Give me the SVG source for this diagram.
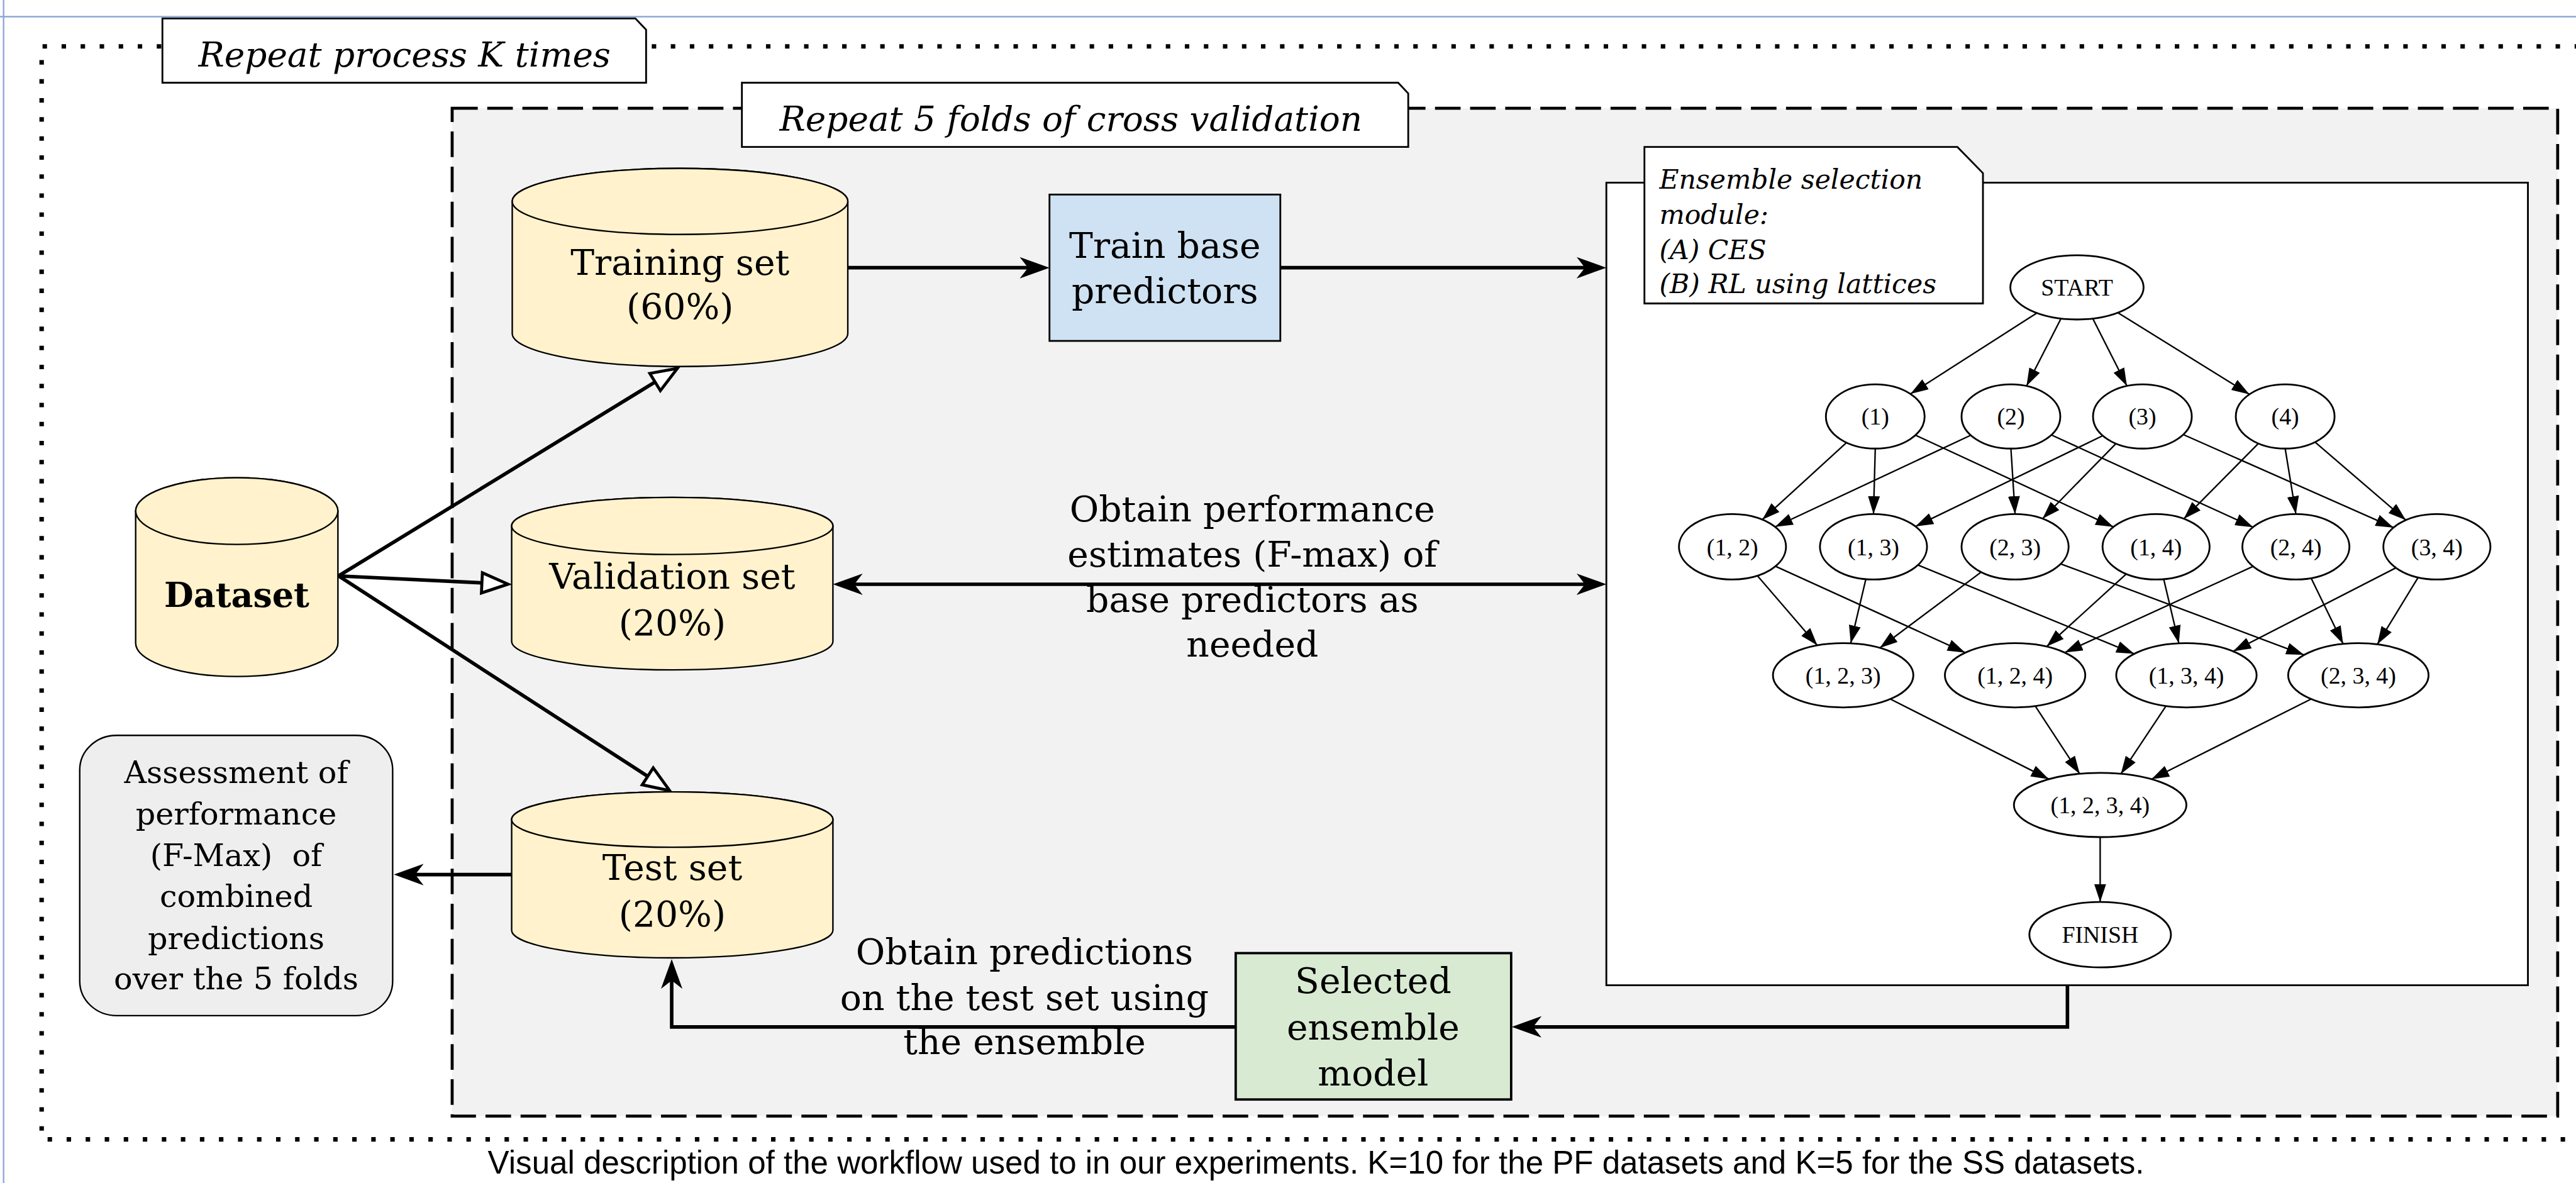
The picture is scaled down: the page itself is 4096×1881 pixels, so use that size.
<svg xmlns="http://www.w3.org/2000/svg" width="4096" height="1881" viewBox="0 0 4096 1881">
<defs>
<style>
.serif{font-family:"DejaVu Serif","Liberation Serif",serif;fill:#000}
.main{font-size:60px;text-anchor:middle}
.ital{font-style:italic}
.gv{font-family:"Liberation Serif","Times New Roman",serif;font-size:40px;text-anchor:middle;fill:#000}
.cyl{fill:#fff2cc;stroke:#000;stroke-width:2.5}
.flow{fill:none;stroke:#000;stroke-width:6}
.lat{fill:none;stroke:#000;stroke-width:2.5;marker-end:url(#tri)}
.node{fill:#fff;stroke:#000;stroke-width:3}
.lbl{fill:#fff;stroke:#000;stroke-width:3}
</style>
<marker id="arr" markerUnits="userSpaceOnUse" viewBox="0 -20 52 40" markerWidth="52" markerHeight="40" refX="20" refY="0" orient="auto-start-reverse"><path d="M0,-18 L50,0 L0,18 L14,0 Z" fill="#000"/></marker>
<marker id="hol" markerUnits="userSpaceOnUse" viewBox="-4 -24 60 48" markerWidth="60" markerHeight="48" refX="0" refY="0" orient="auto"><path d="M0,-17 L44,0 L0,17 Z" fill="#fff" stroke="#000" stroke-width="5"/></marker>
<marker id="tri" markerUnits="userSpaceOnUse" viewBox="0 -11 30 22" markerWidth="30" markerHeight="22" refX="30" refY="0" orient="auto"><path d="M0,-10 L30,0 L0,10 Z" fill="#000"/></marker>
</defs>
<rect x="0" y="0" width="4096" height="1881" fill="#fff"/>
<g transform="scale(0.946)">
<g id="page-guides" stroke="#8fa6d4" stroke-width="2.5">
<line x1="0" y1="28" x2="4330" y2="28"/>
<line x1="6" y1="0" x2="6" y2="1990"/>
</g>
<g id="outer-repeat-k">
<path d="M4335,78 H70 V1915 H4335" fill="none" stroke="#000" stroke-width="7.5" stroke-dasharray="7.5 24.5"/>
<polygon class="lbl" points="273,31 1068,31 1086,50 1086,139 273,139"/>
<text class="serif ital" x="680" y="112" font-size="58" text-anchor="middle">Repeat process K times</text>
</g>
<g id="inner-5folds">
<rect x="760" y="182" width="3539" height="1694" fill="#f2f2f2" stroke="#000" stroke-width="5" stroke-dasharray="43 16"/>
<polygon class="lbl" points="1247,139 2350,139 2367,157 2367,247 1247,247"/>
<text class="serif ital" x="1800" y="220" font-size="58" text-anchor="middle">Repeat 5 folds of cross validation</text>
</g>
<g id="ensemble-module">
<rect x="2700" y="307" width="1549" height="1349" fill="#fff" stroke="#000" stroke-width="3"/>
<polygon class="lbl" points="2764,247 3290,247 3333,291 3333,510 2764,510"/>
<text class="serif ital" font-size="45"><tspan x="2789" y="317">Ensemble selection</tspan><tspan x="2789" y="376">module:</tspan><tspan x="2789" y="435">(A) CES</tspan><tspan x="2789" y="493">(B) RL using lattices</tspan></text>
</g>
<g id="lattice-edges">
<path class="lat" d="M3423.6,526.1 L3211.2,662.1"/>
<path class="lat" d="M3464.2,535.4 L3406.2,648.8"/>
<path class="lat" d="M3517.6,535.4 L3575,648.7"/>
<path class="lat" d="M3559.8,525.6 L3780.9,662.7"/>
<path class="lat" d="M3103.8,743.9 L2962.1,873.3"/>
<path class="lat" d="M3152,754 L3149,864"/>
<path class="lat" d="M3219.6,731.4 L3552.3,885.7"/>
<path class="lat" d="M3312.6,731.5 L2983.5,885.6"/>
<path class="lat" d="M3380,754 L3387,864"/>
<path class="lat" d="M3447.8,731 L3787.1,886.1"/>
<path class="lat" d="M3534.4,732.3 L3219.6,884.8"/>
<path class="lat" d="M3556.5,745.6 L3433.1,871.8"/>
<path class="lat" d="M3669.7,730.4 L4023.1,886.8"/>
<path class="lat" d="M3796,745.4 L3670.6,872"/>
<path class="lat" d="M3841,754 L3859,864"/>
<path class="lat" d="M3891.1,743.1 L4043.8,874.2"/>
<path class="lat" d="M2953.9,967.7 L3054.7,1084.8"/>
<path class="lat" d="M2984.2,951.8 L3303.3,1097"/>
<path class="lat" d="M3136.2,973.4 L3110.7,1081.3"/>
<path class="lat" d="M3223.7,949.7 L3587.2,1098.9"/>
<path class="lat" d="M3330,961.6 L3159.6,1089"/>
<path class="lat" d="M3463.7,947.7 L3872.7,1100.8"/>
<path class="lat" d="M3573.9,964.7 L3440,1086.7"/>
<path class="lat" d="M3636.8,973.4 L3662.3,1081.3"/>
<path class="lat" d="M3786.9,952 L3470.5,1096.8"/>
<path class="lat" d="M3884.6,971.7 L3938.4,1082.3"/>
<path class="lat" d="M4027.1,954.4 L3753.6,1094.7"/>
<path class="lat" d="M4064.5,970.5 L3995.8,1083"/>
<path class="lat" d="M3177.3,1175 L3443.9,1309.6"/>
<path class="lat" d="M3420.9,1186.8 L3495.6,1300.6"/>
<path class="lat" d="M3640.8,1186.5 L3564.7,1300.9"/>
<path class="lat" d="M3884.6,1174.9 L3616.2,1309.7"/>
<path class="lat" d="M3530,1407 L3530,1516"/>
</g>
<g id="n-start"><ellipse class="node" cx="3491" cy="483" rx="112" ry="54"/><text class="gv" x="3491" y="497">START</text></g>
<g id="n-1"><ellipse class="node" cx="3152" cy="700" rx="83" ry="54"/><text class="gv" x="3152" y="714">(1)</text></g>
<g id="n-2"><ellipse class="node" cx="3380" cy="700" rx="83" ry="54"/><text class="gv" x="3380" y="714">(2)</text></g>
<g id="n-3"><ellipse class="node" cx="3601" cy="700" rx="83" ry="54"/><text class="gv" x="3601" y="714">(3)</text></g>
<g id="n-4"><ellipse class="node" cx="3841" cy="700" rx="83" ry="54"/><text class="gv" x="3841" y="714">(4)</text></g>
<g id="n-12"><ellipse class="node" cx="2912" cy="919" rx="90" ry="55"/><text class="gv" x="2912" y="933">(1, 2)</text></g>
<g id="n-13"><ellipse class="node" cx="3149" cy="919" rx="90" ry="55"/><text class="gv" x="3149" y="933">(1, 3)</text></g>
<g id="n-23"><ellipse class="node" cx="3387" cy="919" rx="90" ry="55"/><text class="gv" x="3387" y="933">(2, 3)</text></g>
<g id="n-14"><ellipse class="node" cx="3624" cy="919" rx="90" ry="55"/><text class="gv" x="3624" y="933">(1, 4)</text></g>
<g id="n-24"><ellipse class="node" cx="3859" cy="919" rx="90" ry="55"/><text class="gv" x="3859" y="933">(2, 4)</text></g>
<g id="n-34"><ellipse class="node" cx="4096" cy="919" rx="90" ry="55"/><text class="gv" x="4096" y="933">(3, 4)</text></g>
<g id="n-123"><ellipse class="node" cx="3098" cy="1135" rx="118" ry="54"/><text class="gv" x="3098" y="1149">(1, 2, 3)</text></g>
<g id="n-124"><ellipse class="node" cx="3387" cy="1135" rx="118" ry="54"/><text class="gv" x="3387" y="1149">(1, 2, 4)</text></g>
<g id="n-134"><ellipse class="node" cx="3675" cy="1135" rx="118" ry="54"/><text class="gv" x="3675" y="1149">(1, 3, 4)</text></g>
<g id="n-234"><ellipse class="node" cx="3964" cy="1135" rx="118" ry="54"/><text class="gv" x="3964" y="1149">(2, 3, 4)</text></g>
<g id="n-1234"><ellipse class="node" cx="3530" cy="1353" rx="145" ry="54"/><text class="gv" x="3530" y="1367">(1, 2, 3, 4)</text></g>
<g id="n-finish"><ellipse class="node" cx="3530" cy="1571" rx="119" ry="55"/><text class="gv" x="3530" y="1585">FINISH</text></g>
<g id="connectors">
<path class="flow" d="M569,968 L1101.1,642.1" marker-end="url(#hol)"/>
<path class="flow" d="M569,968 L810,979.7" marker-end="url(#hol)"/>
<path class="flow" d="M569,968 L1088.7,1304.9" marker-end="url(#hol)"/>
<path class="flow" d="M1425,450 L1734,450" marker-end="url(#arr)"/>
<path class="flow" d="M2152,450 L2670,450" marker-end="url(#arr)"/>
<path class="flow" d="M1430,982 L2670,982" marker-start="url(#arr)" marker-end="url(#arr)"/>
<path class="flow" d="M860,1470 L692,1470" marker-end="url(#arr)"/>
<path class="flow" d="M3475,1656 V1726 H2571" marker-end="url(#arr)"/>
<path class="flow" d="M2077,1726 H1129 V1642" marker-end="url(#arr)"/>
</g>
<g id="dataset">
<path class="cyl" stroke-width="4" d="M228,859 V1081 A170,56 0 0 0 568,1081 V859 A170,56 0 0 0 228,859 Z"/>
<ellipse class="cyl" stroke-width="4" cx="398" cy="859" rx="170" ry="56"/>
<text class="serif" x="398" y="1020" font-size="57" font-weight="bold" text-anchor="middle">Dataset</text>
</g>
<g id="training-set">
<path class="cyl" d="M861,338.5 V560.5 A282,55.5 0 0 0 1425,560.5 V338.5 A282,55.5 0 0 0 861,338.5 Z"/>
<ellipse class="cyl" cx="1143" cy="338.5" rx="282" ry="55.5"/>
<text class="serif main"><tspan x="1143" y="462">Training set</tspan><tspan x="1143" y="536">(60%)</tspan></text>
</g>
<g id="validation-set">
<path class="cyl" d="M860,884 V1078 A270,48 0 0 0 1400,1078 V884 A270,48 0 0 0 860,884 Z"/>
<ellipse class="cyl" cx="1130" cy="884" rx="270" ry="48"/>
<text class="serif main"><tspan x="1130" y="989">Validation set</tspan><tspan x="1130" y="1068">(20%)</tspan></text>
</g>
<g id="test-set">
<path class="cyl" d="M860,1377.5 V1563.5 A270,46.5 0 0 0 1400,1563.5 V1377.5 A270,46.5 0 0 0 860,1377.5 Z"/>
<ellipse class="cyl" cx="1130" cy="1377.5" rx="270" ry="46.5"/>
<text class="serif main"><tspan x="1130" y="1479">Test set</tspan><tspan x="1130" y="1557">(20%)</tspan></text>
</g>
<g id="train-base">
<rect x="1764" y="327" width="388" height="246" fill="#cfe2f3" stroke="#000" stroke-width="3"/>
<text class="serif main"><tspan x="1958" y="433">Train base</tspan><tspan x="1958" y="509">predictors</tspan></text>
</g>
<g id="selected-ensemble">
<rect x="2077" y="1602" width="463" height="246" fill="#d9ead3" stroke="#000" stroke-width="4"/>
<text class="serif main"><tspan x="2308" y="1669">Selected</tspan><tspan x="2308" y="1747">ensemble</tspan><tspan x="2308" y="1824">model</tspan></text>
</g>
<g id="assessment">
<rect x="134" y="1236" width="526" height="471" rx="62" ry="58" fill="#eeeeee" stroke="#000" stroke-width="2.5"/>
<text class="serif" font-size="52" text-anchor="middle"><tspan x="397" y="1316">Assessment of</tspan><tspan x="397" y="1386">performance</tspan><tspan x="397" y="1456" xml:space="preserve">(F-Max)  of</tspan><tspan x="397" y="1524">combined</tspan><tspan x="397" y="1595">predictions</tspan><tspan x="397" y="1663">over the 5 folds</tspan></text>
</g>
<g id="edge-labels">
<text class="serif main"><tspan x="2105" y="876">Obtain performance</tspan><tspan x="2105" y="952">estimates (F-max) of</tspan><tspan x="2105" y="1029">base predictors as</tspan><tspan x="2105" y="1104">needed</tspan></text>
<text class="serif main"><tspan x="1722" y="1620">Obtain predictions</tspan><tspan x="1722" y="1698">on the test set using</tspan><tspan x="1722" y="1772">the ensemble</tspan></text>
</g>
<text id="caption" x="2212" y="1973" font-family="Liberation Sans, Arial, sans-serif" font-size="54" text-anchor="middle" fill="#000">Visual description of the workflow used to in our experiments. K=10 for the PF datasets and K=5 for the SS datasets.</text>
</g>
</svg>
